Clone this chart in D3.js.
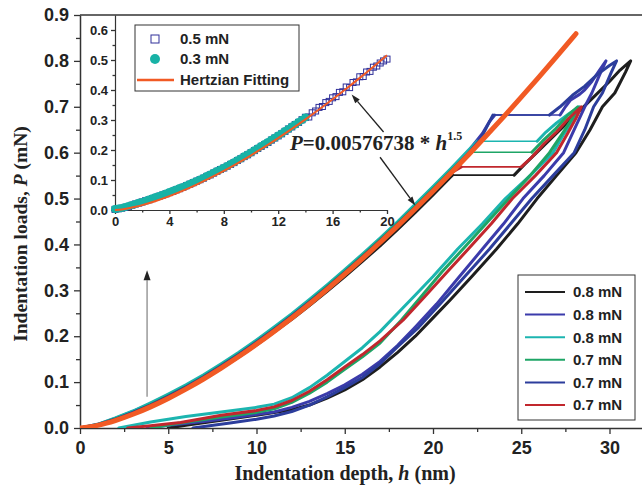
<!DOCTYPE html>
<html>
<head>
<meta charset="utf-8">
<script src="https://cdn.jsdelivr.net/npm/d3@7/dist/d3.min.js"></script>
<style>
  body { margin: 0; background: #fff; }
  text { font-family: "Liberation Sans", Arial, sans-serif; font-weight: bold; fill: #222; }
  .serif { font-family: "Liberation Serif", "Times New Roman", serif; }
</style>
</head>
<body>
<div id="chart"></div>
<script>
// ---- data: [depth h (nm), load P (mN)] ----
// each curve: loading, pop-in plateau, loading to peak, unloading
const black08 = [[0,0],[1,0.006],[2,0.017],[3,0.031],[4,0.047],[5,0.065],[6,0.085],[7,0.107],[8,0.13],[9,0.155],[10,0.181],[11,0.209],[12,0.237],[13,0.267],[14,0.298],[15,0.33],[16,0.363],[17,0.397],[18,0.433],[19,0.47],[20,0.508],[21,0.547],[21.1,0.551],
  [24.6,0.551],[25.2,0.575],[26.0,0.605],[26.8,0.635],[27.6,0.665],[28.4,0.695],[29.2,0.725],[30.0,0.755],[30.6,0.78],[31.2,0.80],
  [30.9,0.775],[30.3,0.73],[29.6,0.70],[28.9,0.65],[28.1,0.60],[27.0,0.55],[25.9,0.50],[24.8,0.445],[23.6,0.39],[22.2,0.33],[21,0.28],[20,0.24],[19,0.2],[18,0.165],[17,0.133],[16,0.105],[15,0.083],[14,0.065],[13,0.05],[12,0.04],[10,0.028],[8,0.017],[6,0.006],[5,0]];
const blue08 = [[0,0],[1,0.008],[2,0.021],[3,0.036],[4,0.053],[5,0.072],[6,0.092],[7,0.114],[8,0.138],[9,0.163],[10,0.19],[11,0.218],[12,0.247],[13,0.278],[14,0.31],[15,0.343],[16,0.377],[17,0.412],[18,0.448],[19,0.486],[20,0.524],[21,0.563],[22,0.603],[22.8,0.642],[23.2,0.668],[23.5,0.682],
  [27.2,0.682],[27.5,0.70],[27.8,0.715],[28.3,0.727],[28.6,0.737],[29.0,0.755],[29.4,0.778],[29.8,0.80],
  [29.5,0.775],[29.0,0.73],[28.6,0.70],[28.0,0.65],[27.4,0.60],[26.3,0.55],[25.1,0.50],[24.0,0.445],[22.8,0.39],[21.5,0.33],[20.2,0.27],[19,0.22],[18,0.18],[17,0.145],[16,0.117],[15,0.094],[14,0.075],[13,0.058],[12,0.045],[11,0.035],[9,0.024],[7,0.014],[5,0.006],[3.8,0]];
const teal08 = [[0,0],[1,0.008],[2,0.022],[3,0.037],[4,0.055],[5,0.074],[6,0.094],[7,0.116],[8,0.14],[9,0.165],[10,0.192],[11,0.22],[12,0.249],[13,0.28],[14,0.312],[15,0.345],[16,0.379],[17,0.414],[18,0.45],[19,0.488],[20,0.526],[21,0.565],[22,0.605],[22.5,0.625],
  [25.9,0.625],[26.4,0.645],[27.0,0.665],[27.7,0.685],[28.3,0.70],
  [28.0,0.675],[27.4,0.64],[26.8,0.60],[25.5,0.55],[24.1,0.50],[22.8,0.445],[21.4,0.39],[20,0.33],[19,0.29],[18,0.25],[17,0.21],[16,0.175],[15,0.145],[14,0.115],[13,0.088],[12,0.066],[11,0.052],[10,0.045],[8,0.035],[6,0.025],[4,0.013],[2.2,0]];
const green07 = [[0,0],[1,0.007],[2,0.02],[3,0.034],[4,0.051],[5,0.07],[6,0.09],[7,0.112],[8,0.136],[9,0.161],[10,0.188],[11,0.216],[12,0.245],[13,0.276],[14,0.308],[15,0.341],[16,0.375],[17,0.41],[18,0.446],[19,0.483],[20,0.521],[21,0.56],[22,0.597],[22.2,0.601],
  [25.6,0.601],[26.2,0.625],[26.9,0.65],[27.6,0.68],[28.2,0.70],
  [27.9,0.675],[27.3,0.64],[26.6,0.60],[25.5,0.55],[24.3,0.50],[23.0,0.445],[21.7,0.39],[20.5,0.34],[19.3,0.285],[18.2,0.235],[17,0.185],[16,0.155],[15,0.128],[14,0.1],[13,0.076],[12,0.056],[11,0.042],[10,0.034],[8,0.024],[5.5,0.01],[4,0]];
const navy07 = [[0,0],[1,0.007],[2,0.019],[3,0.034],[4,0.05],[5,0.069],[6,0.089],[7,0.111],[8,0.135],[9,0.16],[10,0.187],[11,0.215],[12,0.244],[13,0.275],[14,0.306],[15,0.339],[16,0.373],[17,0.408],[18,0.444],[19,0.481],[20,0.519],[21,0.558],[22,0.598],[22.7,0.63],[23.1,0.66],[23.4,0.682],
  [26.6,0.682],[27.2,0.70],[27.9,0.725],[28.6,0.745],[29.3,0.77],[30.0,0.79],[30.4,0.80],
  [30.1,0.775],[29.6,0.73],[29.1,0.70],[28.6,0.65],[28.0,0.60],[26.8,0.55],[25.6,0.50],[24.4,0.445],[23.2,0.39],[21.8,0.33],[20.4,0.27],[19.2,0.22],[18,0.177],[17,0.14],[16,0.11],[15,0.088],[14,0.068],[13,0.05],[12,0.036],[11,0.026],[10,0.019],[8.5,0.011],[6.4,0]];
const red07 = [[0,0],[1,0.006],[2,0.018],[3,0.032],[4,0.049],[5,0.067],[6,0.087],[7,0.109],[8,0.133],[9,0.158],[10,0.185],[11,0.213],[12,0.242],[13,0.272],[14,0.304],[15,0.337],[16,0.371],[17,0.406],[18,0.442],[19,0.479],[20,0.517],[21,0.555],[21.6,0.569],
  [25.0,0.569],[25.6,0.59],[26.3,0.62],[27.0,0.645],[27.7,0.675],[28.4,0.70],
  [28.1,0.675],[27.6,0.64],[27.0,0.60],[25.8,0.55],[24.5,0.50],[23.3,0.445],[22.0,0.39],[20.8,0.34],[19.5,0.285],[18.3,0.235],[17,0.19],[16,0.16],[15,0.133],[14,0.105],[13,0.08],[12,0.06],[11,0.046],[10,0.038],[8,0.028],[5.7,0.012],[4,0.005],[2.7,0]];

// Hertzian fit P = 0.00576738 * h^1.5, values as drawn
const fitH = [0,0.5,1,1.5,2,3,4,5,6,7,8,9,10,11,12,13,14,15,16,17,18,19,20,21,22,23,24,25,26,27,28,28.1];
const fitP = [0,0.002,0.0058,0.0106,0.0163,0.030,0.0461,0.0645,0.0848,0.1068,0.1305,0.1557,0.1824,0.2104,0.2397,0.2703,0.3021,0.3351,0.3691,0.4043,0.4404,0.4777,0.5159,0.555,0.5951,0.6362,0.6781,0.7209,0.7646,0.8091,0.8545,0.8591];

// inset markers, sampled every 0.25 nm
const insetH = d3.range(0, 20.001, 0.25);
const sq05 = [0.002,0.004,0.006,0.009,0.012,0.016,0.02,0.023,0.027,0.031,0.034,0.038,0.042,0.046,0.05,0.054,
  0.058,0.062,0.067,0.071,0.076,0.081,0.086,0.091,0.096,0.101,0.106,0.112,0.117,0.123,0.129,0.135,
  0.14,0.146,0.152,0.158,0.165,0.171,0.178,0.184,0.191,0.198,0.205,0.212,0.218,0.225,0.233,0.24,
  0.247,0.254,0.262,0.27,0.277,0.285,0.292,0.301,0.309,0.31,0.324,0.33,0.342,0.345,0.358,0.362,
  0.374,0.378,0.392,0.394,0.41,0.408,0.425,0.427,0.444,0.445,0.46,0.462,0.476,0.48,0.49,0.497,0.503];
const circ03 = [0.003,0.005,0.007,0.01,0.013,0.017,0.02,0.024,0.027,0.031,0.035,0.039,0.043,0.047,0.051,0.055,
  0.06,0.064,0.068,0.073,0.077,0.082,0.087,0.092,0.097,0.102,0.107,0.113,0.118,0.124,0.13,0.135,
  0.141,0.147,0.153,0.159,0.166,0.172,0.179,0.185,0.192,0.199,0.206,0.213,0.22,0.227,0.234,0.241,
  0.248,0.255,0.263,0.27,0.278,0.285,0.293,0.3,0.308];

const xTicks = [0,5,10,15,20,25,30];
const yTicks = [0,0.1,0.2,0.3,0.4,0.5,0.6,0.7,0.8,0.9];
const insetXTicks = [0,4,8,12,16,20];
const insetYTicks = [0,0.1,0.2,0.3,0.4,0.5,0.6];

const series = [
  { name: "0.8 mN", color: "#1e1e1e", pts: black08 },
  { name: "0.8 mN", color: "#3b3bab", pts: blue08 },
  { name: "0.8 mN", color: "#1cb5b0", pts: teal08 },
  { name: "0.7 mN", color: "#1ea566", pts: green07 },
  { name: "0.7 mN", color: "#2c3d9c", pts: navy07 },
  { name: "0.7 mN", color: "#c1272d", pts: red07 }
];
const orange = "#f15a24";

const W = 642, H = 494;
const svg = d3.select("#chart").append("svg").attr("width", W).attr("height", H);

const x = d3.scaleLinear().domain([0, 32]).range([80, 80 + 32 * 17.65]);
const y = d3.scaleLinear().domain([0, 0.9]).range([428, 15]);

svg.append("clipPath").attr("id", "clip")
  .append("rect").attr("x", 80).attr("y", 15).attr("width", W - 80).attr("height", 413);

// axes
function styleAxis(g) {
  g.select(".domain").attr("stroke", "#333").attr("stroke-width", 1.5);
  g.selectAll(".tick line").attr("stroke", "#333").attr("stroke-width", 1.3);
}
const gx = svg.append("g").attr("transform", "translate(0,428)")
  .call(d3.axisBottom(x).tickValues(xTicks).tickSize(6).tickSizeOuter(0).tickPadding(7).tickFormat(d3.format("d")));
gx.call(styleAxis);
gx.selectAll("text").attr("font-size", 18).style("fill", "#222");
svg.append("g").attr("transform", "translate(0,428)")
  .call(d3.axisBottom(x).tickValues(d3.range(2.5, 32, 5)).tickSize(4).tickFormat(""))
  .call(g => g.select(".domain").remove()).call(styleAxis);

const gy = svg.append("g").attr("transform", "translate(80,0)")
  .call(d3.axisLeft(y).tickValues(yTicks).tickSize(6).tickSizeOuter(0).tickPadding(5).tickFormat(d3.format(".1f")));
gy.call(styleAxis);
gy.selectAll("text").attr("font-size", 18).style("fill", "#222");
svg.append("g").attr("transform", "translate(80,0)")
  .call(d3.axisLeft(y).tickValues(d3.range(0.05, 0.9, 0.1)).tickSize(4).tickFormat(""))
  .call(g => g.select(".domain").remove()).call(styleAxis);

// top frame
svg.append("line").attr("x1", 80).attr("x2", W).attr("y1", 15).attr("y2", 15)
  .attr("stroke", "#333").attr("stroke-width", 1.5);

// axis titles
const yt = svg.append("text").attr("class", "serif").attr("font-size", 19.5)
  .attr("text-anchor", "middle").attr("transform", "translate(27,234) rotate(-90)");
yt.append("tspan").text("Indentation loads, ");
yt.append("tspan").attr("font-style", "italic").text("P");
yt.append("tspan").text(" (mN)");
const xt = svg.append("text").attr("class", "serif").attr("font-size", 20)
  .attr("text-anchor", "middle").attr("x", 345).attr("y", 480);
xt.append("tspan").text("Indentation depth, ");
xt.append("tspan").attr("font-style", "italic").text("h");
xt.append("tspan").text(" (nm)");

// curves: thick loading/unloading branches, thin pop-in plateau
const line = d3.line().x(d => x(d[0])).y(d => y(d[1]));
const plot = svg.append("g").attr("clip-path", "url(#clip)");
series.forEach(s => {
  const p = s.pts;
  const k = p.findIndex((d, i) => i < p.length - 1 && d[1] === p[i + 1][1] && p[i + 1][0] - d[0] > 1);
  const parts = [[p.slice(0, k + 1), 3], [[p[k], p[k + 1]], 1.6], [p.slice(k + 1), 3]];
  parts.forEach(([seg, w]) => {
    plot.append("path").datum(seg).attr("d", line)
      .attr("fill", "none").attr("stroke", s.color).attr("stroke-width", w)
      .attr("stroke-linejoin", "round").attr("stroke-linecap", "round");
  });
});
const fitPts = fitH.map((h, i) => [h, fitP[i]]);
plot.append("path").datum(fitPts)
  .attr("d", d3.line().x(d => x(d[0])).y(d => y(d[1])).curve(d3.curveMonotoneX))
  .attr("fill", "none").attr("stroke", orange).attr("stroke-width", 5).attr("stroke-linecap", "round");

// main legend
const lg = svg.append("g");
lg.append("rect").attr("x", 518).attr("y", 275).attr("width", 117).attr("height", 145)
  .attr("fill", "#fff").attr("stroke", "#333").attr("stroke-width", 1);
series.forEach((s, i) => {
  const yy = 292 + i * 22.6;
  lg.append("line").attr("x1", 525).attr("x2", 565).attr("y1", yy).attr("y2", yy)
    .attr("stroke", s.color).attr("stroke-width", 2);
  lg.append("text").attr("x", 573).attr("y", yy).attr("dy", "0.36em").attr("font-size", 15).text(s.name);
});

function arrow(g, x1, y1, x2, y2, col, headCol, len, wid) {
  const a = Math.atan2(y2 - y1, x2 - x1);
  const bx = x2 - len * Math.cos(a), by = y2 - len * Math.sin(a);
  g.append("line").attr("x1", x1).attr("y1", y1).attr("x2", bx).attr("y2", by)
    .attr("stroke", col).attr("stroke-width", 1.3);
  const px = Math.sin(a) * wid / 2, py = -Math.cos(a) * wid / 2;
  g.append("path").attr("d", `M${x2},${y2}L${bx + px},${by + py}L${bx - px},${by - py}Z`).attr("fill", headCol);
}
// grey arrow pointing at inset
arrow(svg, x(3.8), y(0.068), x(3.8), y(0.344), "#8a8a8a", "#222", 10, 7);

// inset
const xi = d3.scaleLinear().domain([0, 20]).range([115, 387]);
const yi = d3.scaleLinear().domain([0, 0.65]).range([210, 15]);
const inset = svg.append("g");
const gxi = inset.append("g").attr("transform", "translate(0,210)")
  .call(d3.axisBottom(xi).tickValues(insetXTicks).tickSize(4).tickSizeOuter(0).tickPadding(3).tickFormat(d3.format("d")));
gxi.call(styleAxis);
gxi.select(".domain").attr("stroke-width", 1.2);
gxi.selectAll("text").attr("font-size", 13).style("fill", "#222");
inset.append("g").attr("transform", "translate(0,210)")
  .call(d3.axisBottom(xi).tickValues(d3.range(2, 20, 4)).tickSize(2.5).tickFormat(""))
  .call(g => g.select(".domain").remove()).call(styleAxis);
const gyi = inset.append("g").attr("transform", "translate(115,0)")
  .call(d3.axisLeft(yi).tickValues(insetYTicks).tickSize(4).tickSizeOuter(0).tickPadding(3).tickFormat(d3.format(".1f")));
gyi.call(styleAxis);
gyi.select(".domain").attr("stroke-width", 1.2);
gyi.selectAll("text").attr("font-size", 13).style("fill", "#222");
inset.append("g").attr("transform", "translate(115,0)")
  .call(d3.axisLeft(yi).tickValues(d3.range(0.05, 0.6, 0.1)).tickSize(2.5).tickFormat(""))
  .call(g => g.select(".domain").remove()).call(styleAxis);

const sqCol = "#30309a", circCol = "#18b2a6";
inset.selectAll("rect.sq").data(insetH.map((h, i) => [h, sq05[i]])).enter().append("rect")
  .attr("class", "sq").attr("x", d => xi(d[0]) - 3).attr("y", d => yi(d[1]) - 3)
  .attr("width", 6).attr("height", 6).attr("fill", "none").attr("stroke", sqCol).attr("stroke-width", 1);
inset.selectAll("circle.c").data(circ03.map((p, i) => [insetH[i], p])).enter().append("circle")
  .attr("class", "c").attr("cx", d => xi(d[0])).attr("cy", d => yi(d[1])).attr("r", 4).attr("fill", circCol);
const lineI = d3.line().x(d => xi(d[0])).y(d => yi(d[1])).curve(d3.curveMonotoneX);
inset.append("path").datum(fitPts.filter(d => d[0] <= 20)).attr("d", lineI)
  .attr("fill", "none").attr("stroke", orange).attr("stroke-width", 2);

// inset legend
const il = svg.append("g");
il.append("rect").attr("x", 135).attr("y", 25).attr("width", 164).attr("height", 66)
  .attr("fill", "#fff").attr("stroke", "#333").attr("stroke-width", 1);
il.append("rect").attr("x", 151).attr("y", 35).attr("width", 8).attr("height", 8)
  .attr("fill", "none").attr("stroke", sqCol).attr("stroke-width", 1);
il.append("text").attr("x", 180).attr("y", 39).attr("dy", "0.36em").attr("font-size", 15).text("0.5 mN");
il.append("circle").attr("cx", 155).attr("cy", 59).attr("r", 5).attr("fill", circCol);
il.append("text").attr("x", 180).attr("y", 59).attr("dy", "0.36em").attr("font-size", 15).text("0.3 mN");
il.append("line").attr("x1", 137).attr("x2", 174).attr("y1", 80).attr("y2", 80)
  .attr("stroke", orange).attr("stroke-width", 2.5);
il.append("text").attr("x", 180).attr("y", 80).attr("dy", "0.36em").attr("font-size", 15).text("Hertzian Fitting");

// equation annotation with arrows
const eq = svg.append("text").attr("class", "serif").attr("font-size", 21)
  .attr("x", x(11.9)).attr("y", y(0.606));
eq.append("tspan").attr("font-style", "italic").text("P");
eq.append("tspan").text("=0.00576738 * ");
eq.append("tspan").attr("font-style", "italic").text("h");
eq.append("tspan").attr("font-size", 12).attr("dy", -10).text("1.5");
arrow(svg, x(17.2), y(0.645), xi(17.4), yi(0.385), "#222", "#222", 9, 6);
arrow(svg, x(17.0), y(0.59), x(19.0), y(0.485), "#222", "#222", 9, 6);
</script>
</body>
</html>
